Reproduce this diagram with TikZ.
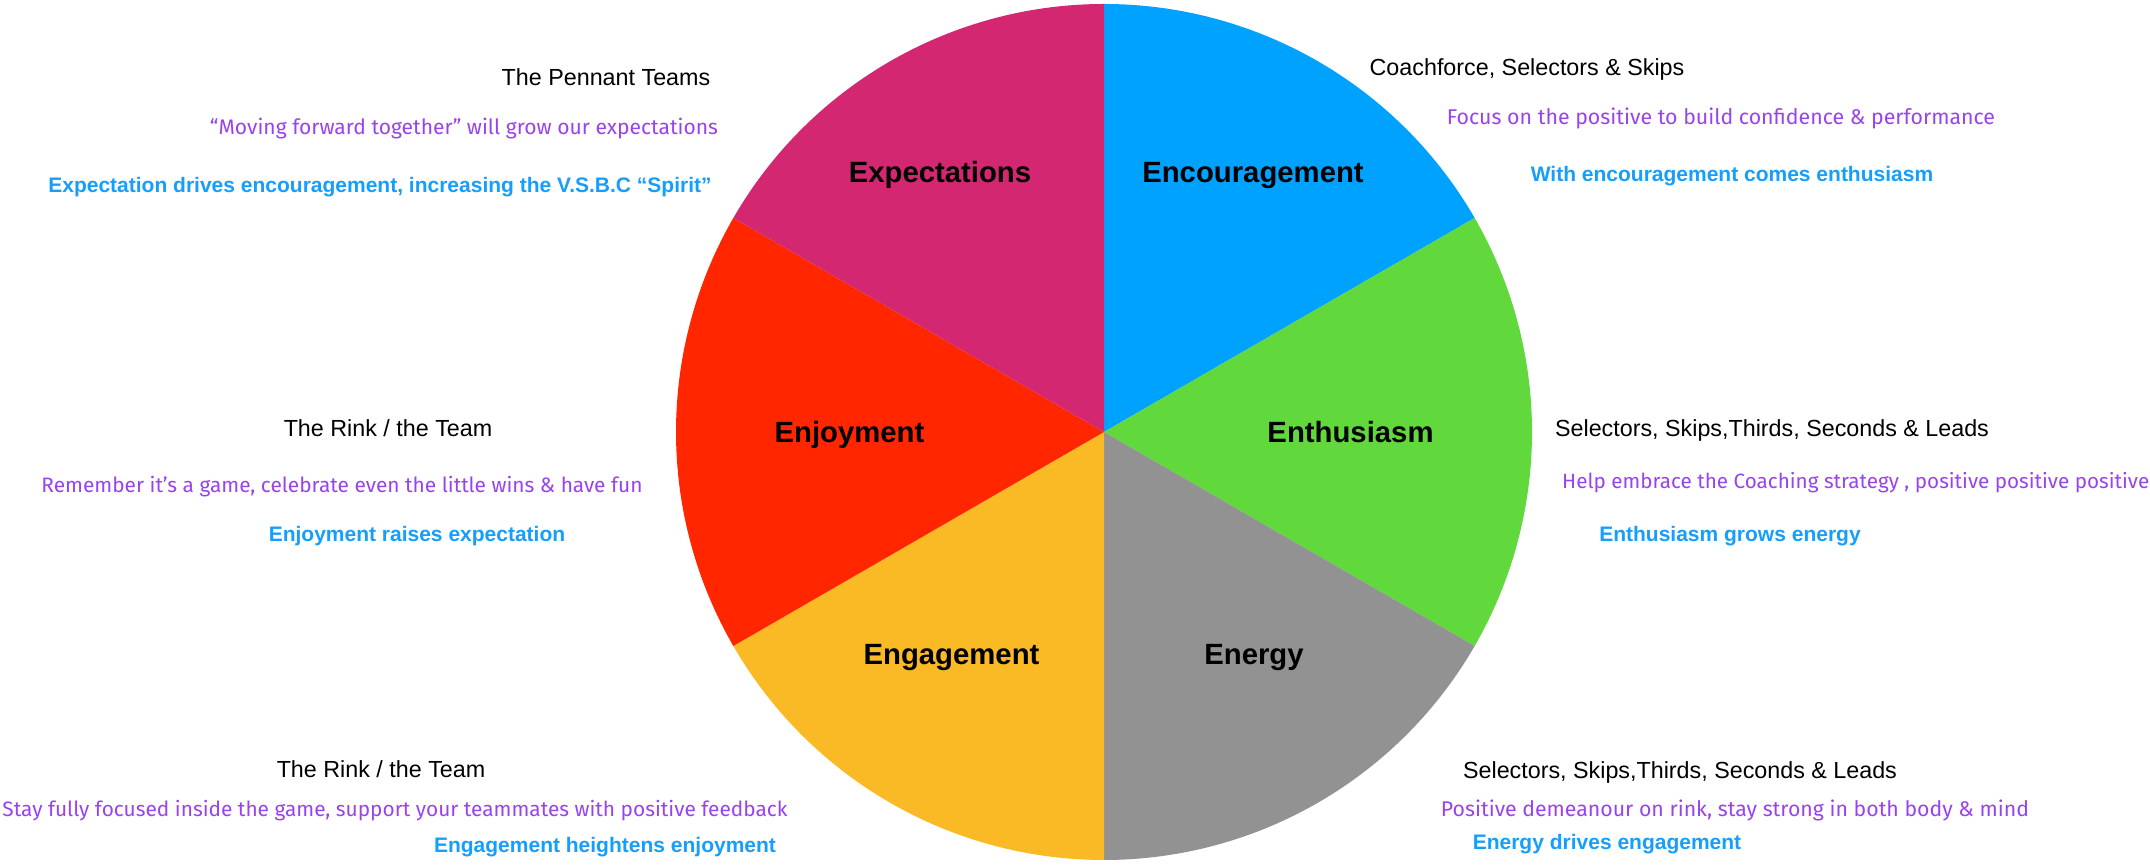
\documentclass[tikz,border=0pt]{standalone}
\usepackage{fontspec}
\setmainfont{Liberation Sans}
\newfontfamily\handfont{Fira Sans}
\usepackage{graphicx}

\definecolor{cBlue}{RGB}{0,162,255}
\definecolor{cGreen}{RGB}{97,216,60}
\definecolor{cGray}{RGB}{146,146,146}
\definecolor{cYellow}{RGB}{249,186,38}
\definecolor{cRed}{RGB}{255,38,0}
\definecolor{cMagenta}{RGB}{212,39,114}
\definecolor{noteBlue}{RGB}{22,158,252}
\definecolor{notePurple}{RGB}{152,66,240}

\tikzset{
  who/.style={anchor=base, inner sep=0pt, text=black,
    font=\fontsize{23.3pt}{28pt}\selectfont},
  effect/.style={anchor=base, inner sep=0pt, text=noteBlue,
    font=\fontsize{21pt}{25pt}\selectfont\bfseries},
  advice/.style={anchor=base, inner sep=0pt, text=notePurple,
    font=\handfont\fontsize{22pt}{26pt}\selectfont},
  slicelabel/.style={anchor=base, inner sep=0pt, text=black,
    font=\fontsize{29.3pt}{34pt}\selectfont\bfseries},
}

\begin{document}
\begin{tikzpicture}[x=1pt, y=1pt]
\useasboundingbox (0,0) rectangle (2150,867);
\clip (0,0) rectangle (2150,867);

% the six-part wheel
\coordinate (c) at (1104,435);
\def\rad{428}
\fill[cBlue]    (c) -- ++(90:\rad)  arc[start angle=90,  end angle=30,   radius=\rad] -- cycle;
\fill[cGreen]   (c) -- ++(30:\rad)  arc[start angle=30,  end angle=-30,  radius=\rad] -- cycle;
\fill[cGray]    (c) -- ++(-30:\rad) arc[start angle=-30, end angle=-90,  radius=\rad] -- cycle;
\fill[cYellow]  (c) -- ++(-90:\rad) arc[start angle=-90, end angle=-150, radius=\rad] -- cycle;
\fill[cRed]     (c) -- ++(210:\rad) arc[start angle=210, end angle=150,  radius=\rad] -- cycle;
\fill[cMagenta] (c) -- ++(150:\rad) arc[start angle=150, end angle=90,   radius=\rad] -- cycle;

% slice names
\node[slicelabel] (lExp)  at (940,684)   {Expectations};
\node[slicelabel] (lEnc)  at (1253,684)  {Encouragement};
\node[slicelabel] (lEnj)  at (849.5,424) {Enjoyment};
\node[slicelabel] (lEnth) at (1350.5,424){Enthusiasm};
\node[slicelabel] (lEng)  at (951.5,202) {Engagement};
\node[slicelabel] (lEne)  at (1254,202)  {Energy};

% Expectations
\node[who]    (wExp) at (606,781.7) {The Pennant Teams};
\node[advice] (aExp) at (464,732) {\resizebox{508pt}{!}{“Moving forward together” will grow our expectations}};
\node[effect] (eExp) at (380,674) {Expectation drives encouragement, increasing the V.S.B.C “Spirit”};

% Encouragement
\node[who]    (wEnc) at (1527,791.2) {Coachforce, Selectors \& Skips};
\node[advice] (aEnc) at (1721,742) {\resizebox{548pt}{!}{Focus on the positive to build confidence \& performance}};
\node[effect] (eEnc) at (1732,685) {With encouragement comes enthusiasm};

% Enthusiasm
\node[who]    (wEnth) at (1772,430.7) {Selectors, Skips,Thirds, Seconds \& Leads};
\node[advice, anchor=base west] (aEnth) at (1562,378) {\resizebox{592pt}{!}{Help embrace the Coaching strategy , positive positive positive!}};
\node[effect] (eEnth) at (1730,325) {Enthusiasm grows energy};

% Enjoyment
\node[who]    (wEnj) at (388,430.7) {The Rink / the Team};
\node[advice] (aEnj) at (342,374) {\resizebox{601pt}{!}{Remember it’s a game, celebrate even the little wins \& have fun}};
\node[effect] (eEnj) at (417,325) {Enjoyment raises expectation};

% Engagement
\node[who]    (wEng) at (381,89.7) {The Rink / the Team};
\node[advice] (aEng) at (395,50) {\resizebox{785pt}{!}{Stay fully focused inside the game, support your teammates with positive feedback}};
\node[effect] (eEng) at (605,14) {Engagement heightens enjoyment};

% Energy
\node[who]    (wEne) at (1680,88.7) {Selectors, Skips,Thirds, Seconds \& Leads};
\node[advice] (aEne) at (1735,50) {\resizebox{588pt}{!}{Positive demeanour on rink, stay strong in both body \& mind}};
\node[effect] (eEne) at (1607,17) {Energy drives engagement};
\end{tikzpicture}
\end{document}
